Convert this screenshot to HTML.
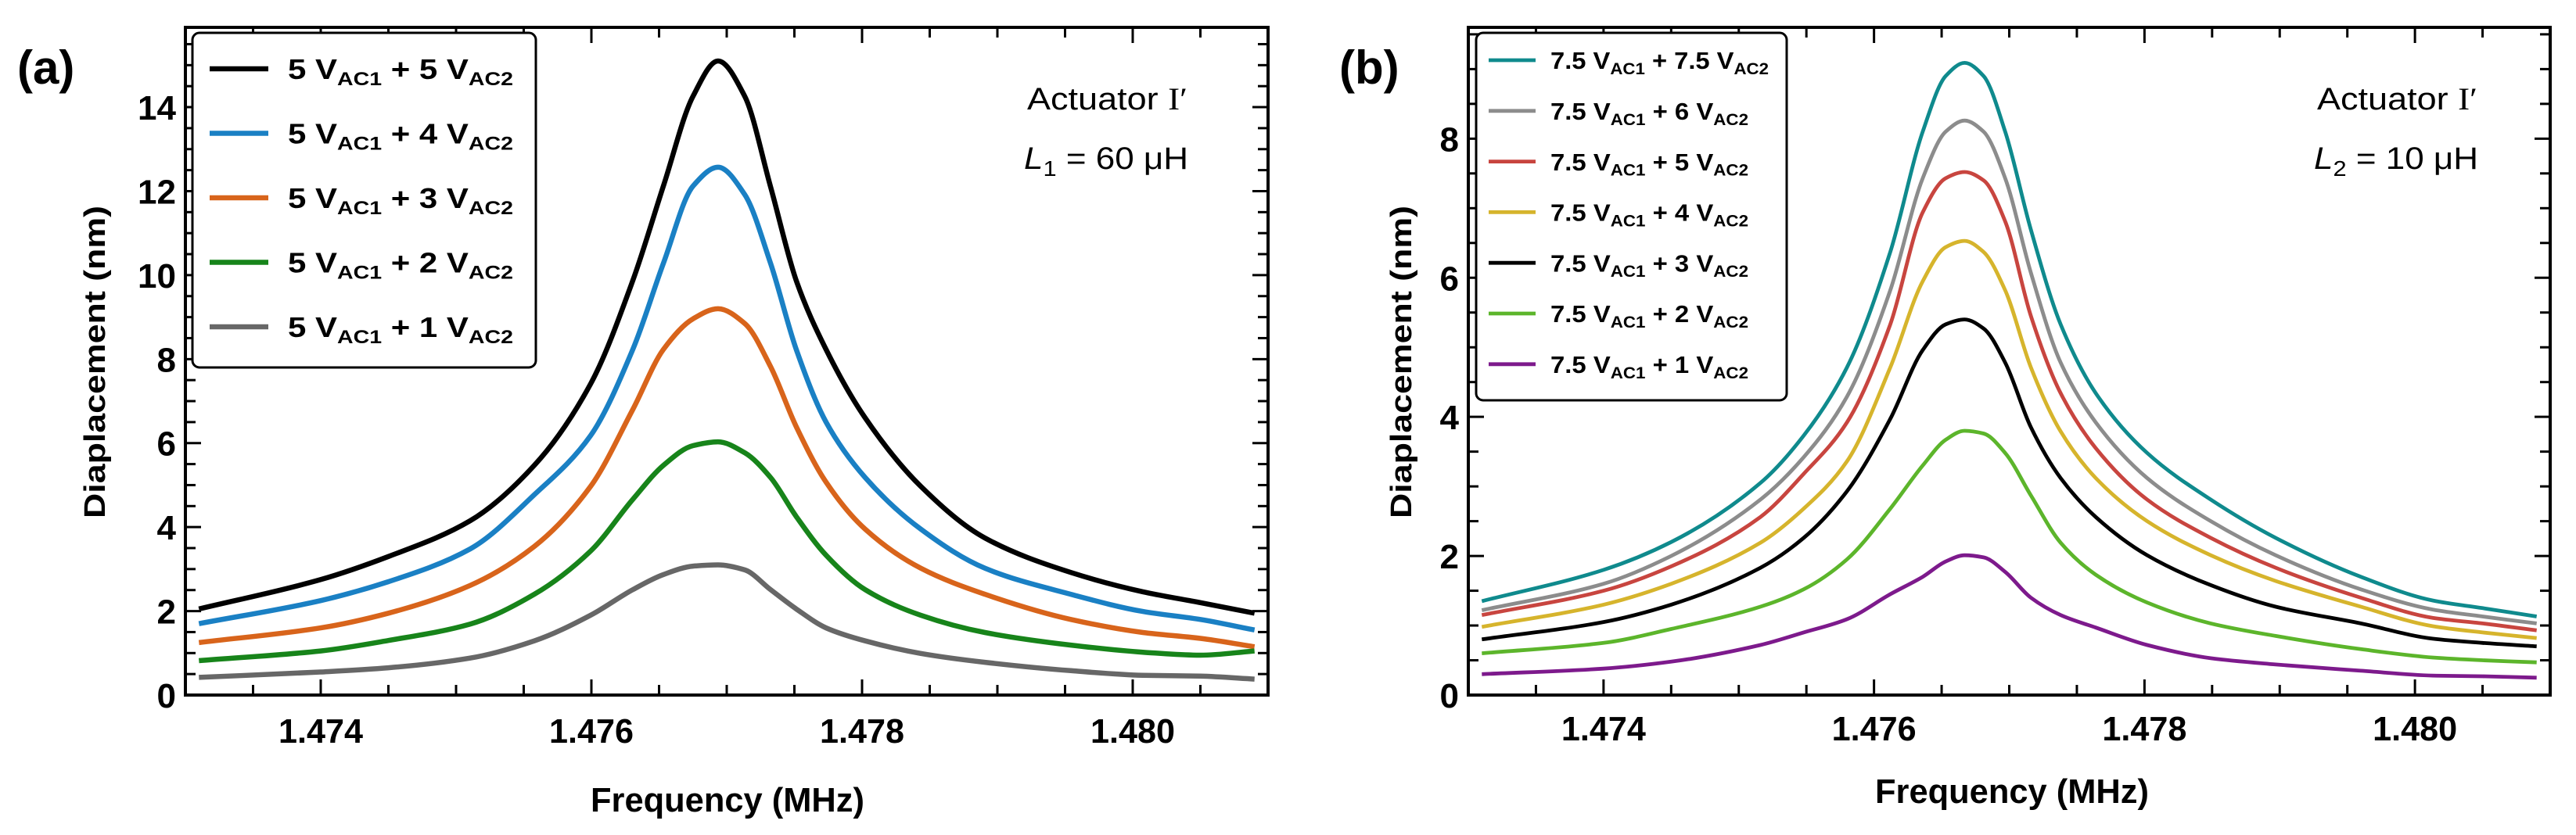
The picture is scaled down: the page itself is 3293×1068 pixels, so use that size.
<!DOCTYPE html>
<html><head><meta charset="utf-8"><style>
html,body{margin:0;padding:0;background:#fff;}
svg{display:block;}
text{font-family:"Liberation Sans",sans-serif;}
</style></head><body>
<svg id="fig" width="3293" height="1068" viewBox="0 0 3293 1068" xmlns="http://www.w3.org/2000/svg">
<rect x="0" y="0" width="3293" height="1068" fill="#fff"/>
</svg>
<script>
// ---------- Panel (a) data ----------
const freqA = [1.4731,1.4740,1.4745,1.475104,1.475578,1.475994,1.476306,1.476532,1.476751,1.476936,1.477133,1.477324,1.477514,1.477734,1.478023,1.478434,1.478908,1.479543,1.480075,1.4805,1.4809];
const a5 = [2.05,2.75,3.3,4.15,5.47,7.41,9.87,12.12,14.26,15.1,14.26,12.1,9.87,8.23,6.6,4.97,3.74,2.92,2.46,2.2,1.95];
const a4 = [1.7,2.25,2.7,3.48,4.77,6.18,8.23,10.28,12.12,12.57,11.92,10.28,8.23,6.5,5.18,3.95,3.02,2.4,1.99,1.8,1.55];
const a3 = [1.25,1.6,1.95,2.61,3.54,4.97,6.8,8.23,8.96,9.2,8.85,7.82,6.39,5.07,3.95,3.02,2.4,1.8,1.49,1.35,1.15];
const a2 = [0.82,1.05,1.3,1.69,2.4,3.43,4.66,5.47,5.94,6.03,5.77,5.18,4.25,3.33,2.51,1.9,1.49,1.19,1.02,0.95,1.05];
const a1 = [0.42,0.55,0.65,0.88,1.29,1.9,2.51,2.87,3.07,3.1,2.98,2.51,2.05,1.6,1.29,0.99,0.78,0.58,0.47,0.45,0.38];
const labelsA = ["5","4","3","2","1"];
const yTicksA = [0,2,4,6,8,10,12,14];
const xTicks = [1.474,1.476,1.478,1.480];

// ---------- Panel (b) data ----------
const freqB = [1.4731,1.4740,1.4745,1.47516,1.47548,1.4758,1.47612,1.47636,1.47653,1.47667,1.47681,1.47697,1.47716,1.47738,1.47764,1.47802,1.47849,1.47897,1.4796,1.48013,1.4805,1.4809];
const b75 = [1.35,1.8,2.2,3.05,3.73,4.71,6.37,8.1,8.9,9.09,8.9,8.1,6.69,5.33,4.34,3.48,2.81,2.26,1.7,1.36,1.25,1.13];
const b6 = [1.22,1.6,2.0,2.81,3.42,4.29,5.82,7.43,8.1,8.26,8.1,7.43,6.07,4.78,3.92,3.12,2.5,2.01,1.52,1.23,1.13,1.03];
const b5 = [1.15,1.5,1.85,2.56,3.18,3.92,5.33,6.94,7.43,7.52,7.4,6.81,5.45,4.34,3.55,2.81,2.26,1.83,1.4,1.11,1.03,0.93];
const b4 = [0.98,1.3,1.6,2.19,2.68,3.36,4.71,5.95,6.44,6.53,6.37,5.82,4.71,3.79,3.12,2.5,2.01,1.64,1.27,0.99,0.9,0.82];
const b3 = [0.8,1.05,1.3,1.83,2.26,2.93,3.97,4.96,5.33,5.4,5.27,4.78,3.85,3.12,2.56,2.01,1.58,1.27,1.03,0.81,0.75,0.7];
const b2 = [0.6,0.75,0.95,1.27,1.52,1.95,2.68,3.3,3.67,3.8,3.76,3.48,2.87,2.19,1.73,1.33,1.03,0.85,0.66,0.54,0.5,0.47];
const b1 = [0.3,0.38,0.48,0.72,0.9,1.09,1.45,1.7,1.92,2.01,1.98,1.77,1.4,1.15,0.97,0.72,0.53,0.44,0.35,0.28,0.27,0.25];
const labelsB = ["7.5","6","5","4","3","2","1"];
const yTicksB = [0,2,4,6,8];

const NS = "http://www.w3.org/2000/svg";
const svg = document.getElementById('fig');
function mk(tag, attrs, parent){
  const e = document.createElementNS(NS, tag);
  for (const k in attrs) e.setAttribute(k, attrs[k]);
  (parent||svg).appendChild(e);
  return e;
}
// monotone cubic (Fritsch-Carlson) path in pixel space
function smoothPath(pts){
  const n = pts.length;
  const dx=[], dy=[], m=[];
  for (let i=0;i<n-1;i++){ dx.push(pts[i+1][0]-pts[i][0]); dy.push(pts[i+1][1]-pts[i][1]); m.push(dy[i]/dx[i]); }
  const t = new Array(n);
  t[0]=m[0]; t[n-1]=m[n-2];
  for (let i=1;i<n-1;i++){
    if (m[i-1]*m[i] <= 0) t[i]=0;
    else {
      const w1 = 2*dx[i]+dx[i-1], w2 = dx[i]+2*dx[i-1];
      t[i] = (w1+w2)/(w1/m[i-1]+w2/m[i]);
    }
  }
  let d = "M"+pts[0][0].toFixed(1)+","+pts[0][1].toFixed(1);
  for (let i=0;i<n-1;i++){
    const h = dx[i]/3;
    d += " C"+(pts[i][0]+h).toFixed(1)+","+(pts[i][1]+t[i]*h).toFixed(1)+" "+(pts[i+1][0]-h).toFixed(1)+","+(pts[i+1][1]-t[i+1]*h).toFixed(1)+" "+pts[i+1][0].toFixed(1)+","+pts[i+1][1].toFixed(1);
  }
  return d;
}

function panel(cfg){
  const g = mk('g', {});
  
  
  const L=cfg.left,R=cfg.right,T=cfg.top,B=cfg.bottom;
  const xs = f => L + (f-1.473)/(0.008)*(R-L);
  const ys = v => B - v/cfg.ymax*(B-T);
  const tg = mk('g', {stroke:'#000','stroke-width':3}, g);
  
  
  for (let k=0;k<=16;k++){
    const f = 1.473 + k*0.0005;
    const x = xs(f);
    const major = xTicks.some(t=>Math.abs(t-f)<1e-7);
    const len = major?20:13;
    mk('line',{x1:x,x2:x,y1:B,y2:B-len},tg);
    mk('line',{x1:x,x2:x,y1:T,y2:T+len},tg);
  }
  for (let v=0; v<=cfg.ymax+1e-9; v+=0.5){
    const y = ys(v);
    const major = cfg.yTicks.includes(v);
    const len = major?20:13;
    mk('line',{x1:L,x2:L+len,y1:y,y2:y},tg);
    mk('line',{x1:R,x2:R-len,y1:y,y2:y},tg);
  }
  cfg.series.forEach((s,i)=>{
    const pts = cfg.freq.map((f,j)=>[xs(f), ys(s.vals[j])]);
    const p = mk('path',{d:smoothPath(pts),fill:'none',stroke:s.color,'stroke-width':cfg.lw,'stroke-linejoin':'round','stroke-linecap':'butt'},g);
    
    
  });
  const fr = mk('rect',{x:L,y:T,width:R-L,height:B-T,fill:'none',stroke:'#000','stroke-width':4},g);
  
  
  cfg.yTicks.forEach(v=>{
    const t = mk('text',{x:L-12,y:ys(v)+16,'text-anchor':'end','font-size':44,'font-weight':'bold'},g);
    t.textContent = String(v);
    
    
  });
  xTicks.forEach(v=>{
    const t = mk('text',{x:xs(v),y:cfg.xlabY,'text-anchor':'middle','font-size':44,'font-weight':'bold',textLength:108,lengthAdjust:'spacingAndGlyphs'},g);
    t.textContent = v.toFixed(3);
    
    
  });
  const lg = mk('g',{},g);
  
  
  const lb = cfg.legend;
  mk('rect',{x:lb.x,y:lb.y,width:lb.w,height:lb.h,rx:9,ry:9,fill:'#fff',stroke:'#000','stroke-width':3},lg);
  cfg.series.forEach((s,i)=>{
    const cy = lb.row0 + i*lb.dy;
    const ent = mk('g',{},lg);
    
    
    mk('line',{x1:lb.lx1,x2:lb.lx2,y1:cy,y2:cy,stroke:s.color,'stroke-width':cfg.lw},ent);
    const t = mk('text',{x:lb.tx,y:cy+lb.fs*0.36,'font-size':lb.fs,'font-weight':'bold',textLength:s.tw,lengthAdjust:'spacingAndGlyphs'},ent);
    t.innerHTML = lb.v1+' V<tspan dy="'+(lb.fs*0.22)+'" font-size="'+(lb.fs*0.68)+'">AC1</tspan><tspan dy="'+(-lb.fs*0.22)+'"> + '+s.label+' V</tspan><tspan dy="'+(lb.fs*0.22)+'" font-size="'+(lb.fs*0.68)+'">AC2</tspan>';
  });
  const a1t = mk('text',{x:cfg.annX,y:140,'font-size':40,textLength:205,lengthAdjust:'spacingAndGlyphs'},g);
  a1t.innerHTML = 'Actuator <tspan font-family="Liberation Serif, serif">I′</tspan>';
  
  
  const a2t = mk('text',{x:cfg.annX-4,y:216,'font-size':40,'font-family':'Liberation Serif, serif',textLength:210,lengthAdjust:'spacingAndGlyphs'},g);
  a2t.innerHTML = '<tspan font-style="italic">L</tspan><tspan dy="9" font-size="28">'+cfg.lsub+'</tspan><tspan dy="-9"> = '+cfg.lval+' μH</tspan>';
  
  
  const pl = mk('text',{x:cfg.letterX,y:107,'font-size':60,'font-weight':'bold'},g);
  pl.textContent = cfg.letter;
  
  
  const xt = mk('text',{x:cfg.xtX,y:cfg.xtY,'text-anchor':'middle','font-size':44,'font-weight':'bold',textLength:350,lengthAdjust:'spacingAndGlyphs'},g);
  xt.textContent = 'Frequency (MHz)';
  
  
  const yt = mk('text',{x:0,y:0,'text-anchor':'middle','font-size':38,'font-weight':'bold','font-family':'DejaVu Sans, sans-serif',textLength:400,lengthAdjust:'spacingAndGlyphs',transform:'translate('+cfg.ytX+',463) rotate(-90)'},g);
  yt.textContent = 'Diaplacement (nm)';
  
  
}

panel({
  name:'panel-a', left:237, right:1621, top:35, bottom:889, ymax:15.9, lw:6.5,
  freq:freqA, yTicks:yTicksA, xlabY:950,
  series:[
    {key:'5v-5v',label:labelsA[0],vals:a5,color:'#000000',tw:288},
    {key:'5v-4v',label:labelsA[1],vals:a4,color:'#1a80c4',tw:288},
    {key:'5v-3v',label:labelsA[2],vals:a3,color:'#d8641b',tw:288},
    {key:'5v-2v',label:labelsA[3],vals:a2,color:'#17841a',tw:288},
    {key:'5v-1v',label:labelsA[4],vals:a1,color:'#676767',tw:288}
  ],
  legend:{x:246,y:42,w:439,h:428,row0:88,dy:82.5,lx1:268,lx2:343,tx:368,fs:36,v1:'5'},
  annX:1313, lsub:'1', lval:'60', letter:'(a)', letterX:22, xtX:930, xtY:1038, ytX:134
});
panel({
  name:'panel-b', left:1877, right:3260, top:35, bottom:889, ymax:9.6, lw:4.8,
  freq:freqB, yTicks:yTicksB, xlabY:947,
  series:[
    {key:'7.5v-7.5v',label:labelsB[0],vals:b75,color:'#0f8a8d',tw:279},
    {key:'7.5v-6v',label:labelsB[1],vals:b6,color:'#8c8c8c',tw:253},
    {key:'7.5v-5v',label:labelsB[2],vals:b5,color:'#c8453f',tw:253},
    {key:'7.5v-4v',label:labelsB[3],vals:b4,color:'#d6b42c',tw:253},
    {key:'7.5v-3v',label:labelsB[4],vals:b3,color:'#000000',tw:253},
    {key:'7.5v-2v',label:labelsB[5],vals:b2,color:'#5cb52b',tw:253},
    {key:'7.5v-1v',label:labelsB[6],vals:b1,color:'#7d1a8c',tw:253}
  ],
  legend:{x:1887,y:42,w:397,h:470,row0:77,dy:64.8,lx1:1903,lx2:1963,tx:1982,fs:31,v1:'7.5'},
  annX:2962, lsub:'2', lval:'10', letter:'(b)', letterX:1712, xtX:2572, xtY:1027, ytX:1804
});
</script>
</body></html>
